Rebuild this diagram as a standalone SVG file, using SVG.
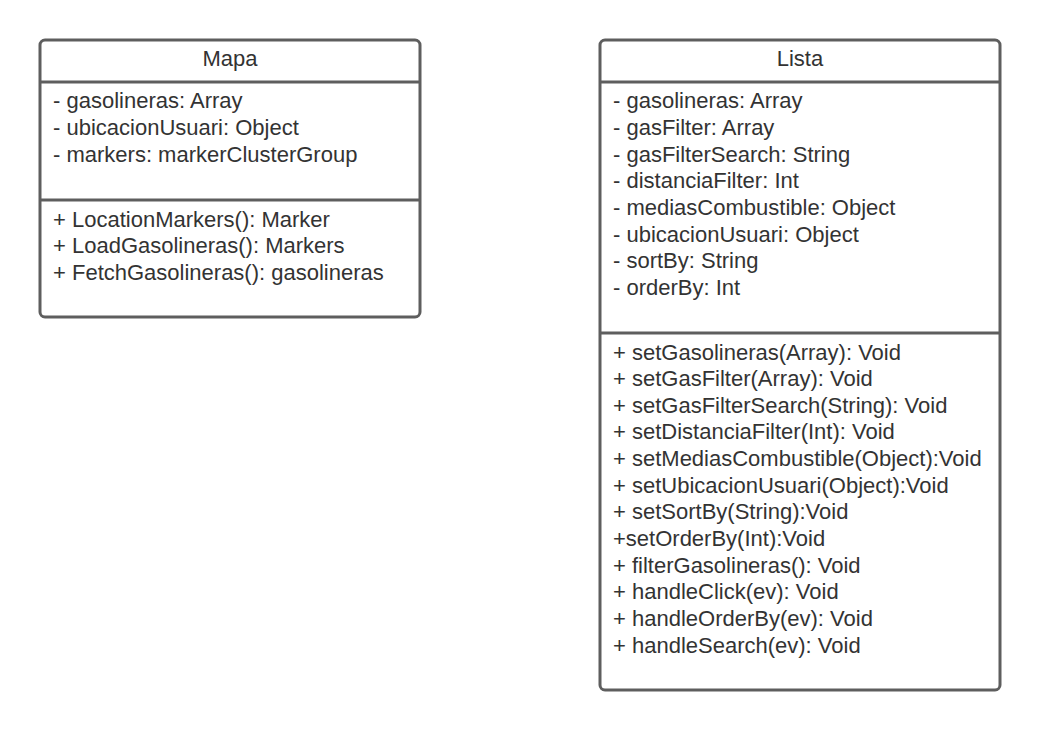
<svg xmlns="http://www.w3.org/2000/svg" width="1040" height="731" viewBox="0 0 1040 731">
<style>
.box{fill:#ffffff;stroke:#5e5e5e;stroke-width:3}
.div{stroke:#5e5e5e;stroke-width:3}
text{font-family:"Liberation Sans",Arial,sans-serif;font-size:22px;fill:#333333}
.title{text-anchor:middle}
</style>
<rect width="1040" height="731" fill="#ffffff"/>
<g id="mapa">
<rect class="box" x="40" y="40" width="380" height="277" rx="5"/>
<line class="div" x1="40" y1="82" x2="420" y2="82"/>
<line class="div" x1="40" y1="200" x2="420" y2="200"/>
<text class="title" x="230" y="66">Mapa</text>
<text x="53" y="108">- gasolineras: Array</text>
<text x="53" y="135">- ubicacionUsuari: Object</text>
<text x="53" y="161.5">- markers: markerClusterGroup</text>
<text x="53" y="226.5">+ LocationMarkers(): Marker</text>
<text x="53" y="253">+ LoadGasolineras(): Markers</text>
<text x="53" y="280">+ FetchGasolineras(): gasolineras</text>
</g>
<g id="lista">
<rect class="box" x="600" y="40" width="400" height="650" rx="5"/>
<line class="div" x1="600" y1="82" x2="1000" y2="82"/>
<line class="div" x1="600" y1="333" x2="1000" y2="333"/>
<text class="title" x="800" y="66">Lista</text>
<text x="613" y="108">- gasolineras: Array</text>
<text x="613" y="135">- gasFilter: Array</text>
<text x="613" y="161.5">- gasFilterSearch: String</text>
<text x="613" y="188">- distanciaFilter: Int</text>
<text x="613" y="215">- mediasCombustible: Object</text>
<text x="613" y="241.5">- ubicacionUsuari: Object</text>
<text x="613" y="268">- sortBy: String</text>
<text x="613" y="295">- orderBy: Int</text>
<text x="613" y="359.5">+ setGasolineras(Array): Void</text>
<text x="613" y="386">+ setGasFilter(Array): Void</text>
<text x="613" y="412.5">+ setGasFilterSearch(String): Void</text>
<text x="613" y="439">+ setDistanciaFilter(Int): Void</text>
<text x="613" y="466">+ setMediasCombustible(Object):Void</text>
<text x="613" y="492.5">+ setUbicacionUsuari(Object):Void</text>
<text x="613" y="519">+ setSortBy(String):Void</text>
<text x="613" y="546">+setOrderBy(Int):Void</text>
<text x="613" y="572.5">+ filterGasolineras(): Void</text>
<text x="613" y="599">+ handleClick(ev): Void</text>
<text x="613" y="626">+ handleOrderBy(ev): Void</text>
<text x="613" y="652.5">+ handleSearch(ev): Void</text>
</g>
<g id="connectors"></g>
</svg>
